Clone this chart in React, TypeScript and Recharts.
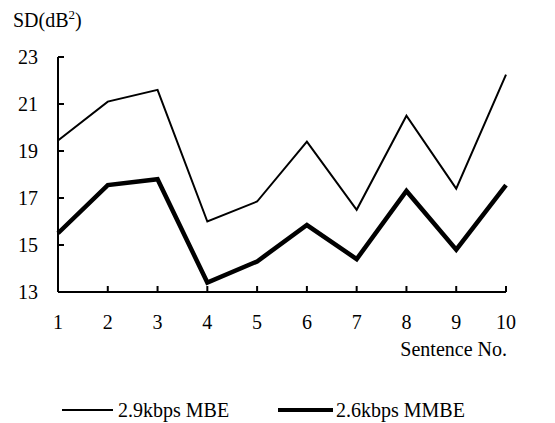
import React from 'react';
import { LineChart, Line, XAxis, YAxis } from 'recharts';

const sentences = ['1', '2', '3', '4', '5', '6', '7', '8', '9', '10'];
const mbe = [19.45, 21.1, 21.6, 16.0, 16.85, 19.4, 16.5, 20.5, 17.4, 22.25];
const mmbe = [15.5, 17.55, 17.8, 13.4, 14.3, 15.85, 14.4, 17.3, 14.8, 17.55];
const yTicks = [13, 15, 17, 19, 21, 23];
const seriesNames = ['2.9kbps MBE', '2.6kbps MMBE'];

const data = sentences.map((s, i) => ({ s, mbe: mbe[i], mmbe: mmbe[i] }));

const FONT = "'Liberation Serif', 'Times New Roman', 'DejaVu Serif', serif";
const FS = 20;

const YTick = (props: any) => {
  const { x, y, payload } = props;
  return (
    <g>
      {payload.value !== 13 && <line x1={x} x2={x + 6} y1={y} y2={y} stroke="#000" strokeWidth={2} />}
      <text x={x - 20} y={y} textAnchor="end" dominantBaseline="central" fontFamily={FONT} fontSize={FS} fill="#000">
        {payload.value}
      </text>
    </g>
  );
};

const XTick = (props: any) => {
  const { x, y, payload, index } = props;
  return (
    <g>
      {index !== 0 && <line x1={x} x2={x} y1={y} y2={y - 6} stroke="#000" strokeWidth={2} />}
      <text x={x} y={y + 37} textAnchor="middle" fontFamily={FONT} fontSize={FS} fill="#000">
        {payload.value}
      </text>
    </g>
  );
};

export default function App() {
  return (
    <div style={{ position: 'absolute', left: 0, top: 0, width: 555, height: 423, background: '#fff' }}>
      <LineChart width={555} height={423} data={data} margin={{ top: 57, right: 49, bottom: 101, left: 0 }}>
        <XAxis
          dataKey="s"
          interval={0}
          tickSize={0}
          tickMargin={0}
          tickLine={false}
          tick={<XTick />}
          axisLine={{ stroke: '#000', strokeWidth: 2 }}
          height={30}
          padding={{ left: 0, right: 0 }}
          label={(p: any) => {
            const vb = p.viewBox;
            return (
              <text x={vb.x + vb.width + 1} y={vb.y + 64} textAnchor="end" fontFamily={FONT} fontSize={FS} fill="#000">
                Sentence No.
              </text>
            );
          }}
        />
        <YAxis
          domain={[13, 23]}
          ticks={yTicks}
          interval={0}
          width={58}
          tickSize={0}
          tickMargin={0}
          tickLine={false}
          tick={<YTick />}
          axisLine={{ stroke: '#000', strokeWidth: 2 }}
          label={() => (
            <text x={13} y={27} fontFamily={FONT} fontSize={FS} fill="#000">
              SD(dB<tspan fontSize={13} dy={-8}>2</tspan>
              <tspan dy={8}>)</tspan>
            </text>
          )}
        />
        <Line type="linear" dataKey="mbe" name={seriesNames[0]} stroke="#000" strokeWidth={2} dot={false} isAnimationActive={false} />
        <Line type="linear" dataKey="mmbe" name={seriesNames[1]} stroke="#000" strokeWidth={4.5} dot={false} isAnimationActive={false} />
      </LineChart>
      <div style={{ position: 'absolute', left: 0, top: 396, width: 555, height: 26, fontSize: FS, color: '#000', fontFamily: FONT }}>
        <div style={{ position: 'absolute', left: 62, top: 13, width: 51, height: 2, background: '#000' }} />
        <div style={{ position: 'absolute', left: 118, top: 1, whiteSpace: 'nowrap', lineHeight: '26px' }}>{seriesNames[0]}</div>
        <div style={{ position: 'absolute', left: 278, top: 12, width: 55, height: 4, background: '#000' }} />
        <div style={{ position: 'absolute', left: 336, top: 1, whiteSpace: 'nowrap', lineHeight: '26px' }}>{seriesNames[1]}</div>
      </div>
    </div>
  );
}
